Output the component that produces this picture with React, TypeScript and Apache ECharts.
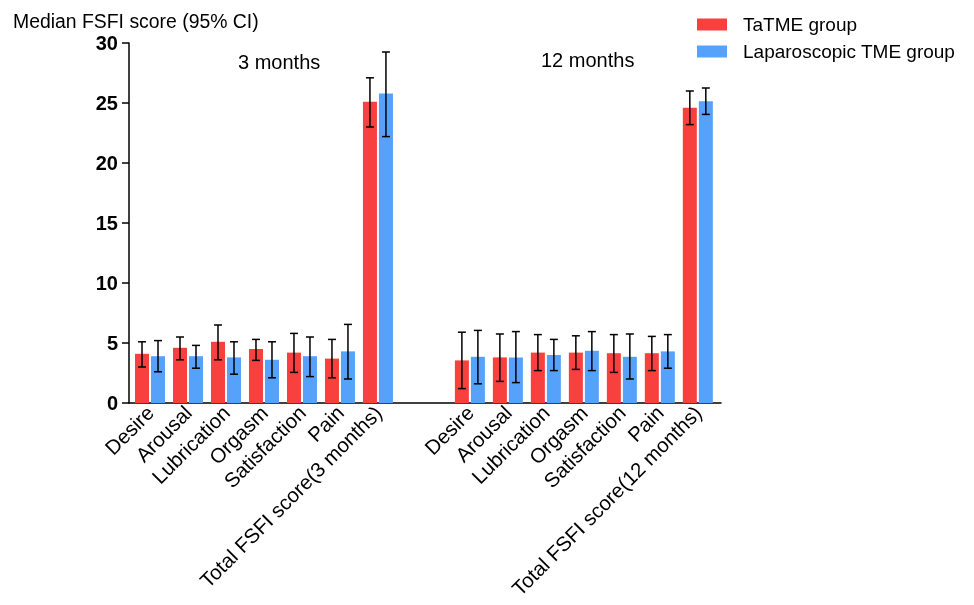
import React, { useEffect, useRef } from "react";
import * as echarts from "echarts";

const categories3 = ["Desire", "Arousal", "Lubrication", "Orgasm", "Satisfaction", "Pain", "Total FSFI score(3 months)"];
const categories12 = ["Desire", "Arousal", "Lubrication", "Orgasm", "Satisfaction", "Pain", "Total FSFI score(12 months)"];

const tatme3 = [4.1, 4.6, 5.1, 4.5, 4.2, 3.7, 25.1];
const tatme3Low = [3.0, 3.6, 3.6, 3.55, 2.55, 2.1, 23.0];
const tatme3High = [5.1, 5.5, 6.5, 5.3, 5.8, 5.3, 27.1];
const lap3 = [3.9, 3.9, 3.8, 3.6, 3.9, 4.3, 25.8];
const lap3Low = [2.6, 2.9, 2.4, 2.1, 2.2, 2.0, 22.2];
const lap3High = [5.2, 4.8, 5.1, 5.1, 5.5, 6.55, 29.25];

const tatme12 = [3.55, 3.8, 4.2, 4.2, 4.15, 4.15, 24.6];
const tatme12Low = [1.2, 1.8, 2.7, 2.8, 2.55, 2.7, 23.2];
const tatme12High = [5.9, 5.75, 5.7, 5.6, 5.7, 5.55, 26.0];
const lap12 = [3.85, 3.8, 4.0, 4.35, 3.85, 4.3, 25.15];
const lap12Low = [1.6, 1.7, 2.7, 2.7, 2.0, 2.9, 24.05];
const lap12High = [6.05, 5.95, 5.3, 5.95, 5.75, 5.7, 26.25];

const yTicks = [0, 5, 10, 15, 20, 25, 30];
const seriesNames = ["TaTME group", "Laparoscopic TME group"];
const colors = ["#F8403F", "#56A2FB"];

const FONT = "'Liberation Sans', Arial, sans-serif";
const GAP = 1.42; // extra space between the two time-point blocks (in category units)

const allCategories = [...categories3, ...categories12];
const positions = allCategories.map((_, i) => (i >= categories3.length ? i + GAP : i));

function build(vals: number[][], lows: number[][], highs: number[][]) {
  const v = vals.flat();
  const l = lows.flat();
  const h = highs.flat();
  return positions.map((p, i) => [p, v[i], l[i], h[i]]);
}

const redData = build([tatme3, tatme12], [tatme3Low, tatme12Low], [tatme3High, tatme12High]);
const blueData = build([lap3, lap12], [lap3Low, lap12Low], [lap3High, lap12High]);

function makeRender(offset: number) {
  return (params: any, api: any) => {
    const x = api.value(0);
    const base = api.coord([x, 0]);
    const top = api.coord([x, api.value(1)]);
    const lo = api.coord([x, api.value(2)]);
    const hi = api.coord([x, api.value(3)]);
    const cx = base[0] + offset;
    const bw = 14;
    const cap = 4;
    const stroke = { stroke: "#000", lineWidth: 1.5 };
    return {
      type: "group",
      children: [
        {
          type: "rect",
          shape: { x: cx - bw / 2, y: top[1], width: bw, height: base[1] - top[1] },
          style: { fill: api.visual("color") },
        },
        { type: "line", shape: { x1: cx, y1: hi[1], x2: cx, y2: lo[1] }, style: stroke },
        { type: "line", shape: { x1: cx - cap, y1: hi[1], x2: cx + cap, y2: hi[1] }, style: stroke },
        { type: "line", shape: { x1: cx - cap, y1: lo[1], x2: cx + cap, y2: lo[1] }, style: stroke },
      ],
    };
  };
}

export default function App() {
  const ref = useRef<HTMLDivElement>(null);
  useEffect(() => {
    if (!ref.current) return;
    const chart = echarts.init(ref.current, null, { renderer: "svg" });
    const labelMap = new Map<number, string>();
    positions.forEach((p, i) => labelMap.set(Math.round(p * 100), allCategories[i]));
    chart.setOption({
      animation: false,
      textStyle: { fontFamily: FONT },
      grid: { left: 129, right: 253, top: 43, bottom: 202, containLabel: false },
      legend: {
        orient: "vertical",
        left: 692,
        top: 9.5,
        icon: "rect",
        itemWidth: 30,
        itemHeight: 12,
        itemGap: 7,
        data: seriesNames,
        textStyle: { fontFamily: FONT, fontSize: 19, color: "#000", lineHeight: 20, padding: [0, 0, 0, 11] },
      },
      xAxis: {
        type: "value",
        min: -0.553,
        max: 15.03,
        splitLine: { show: false },
        axisLine: { show: true, onZero: false, lineStyle: { color: "#000", width: 1.5 } },
        axisTick: { show: false },
        axisLabel: {
          customValues: positions,
          rotate: 45,
          margin: 6,
          fontSize: 20.5,
          color: "#000",
          fontFamily: FONT,
          formatter: (v: number) => labelMap.get(Math.round(v * 100)) ?? "",
        },
      },
      yAxis: {
        type: "value",
        min: 0,
        max: 30,
        interval: 5,
        splitLine: { show: false },
        axisLine: { show: true, onZero: false, lineStyle: { color: "#000", width: 1.5 } },
        axisTick: { show: true, length: 7, lineStyle: { color: "#000", width: 1.5 }, customValues: yTicks },
        axisLabel: { fontSize: 20, fontWeight: "bold", color: "#000", margin: 11, fontFamily: FONT },
      },
      graphic: [
        {
          type: "text",
          x: 13,
          y: 21,
          style: { text: "Median FSFI score (95% CI)", fontSize: 19.4, fontFamily: FONT, fill: "#000", verticalAlign: "middle" },
        },
        {
          type: "text",
          x: 238,
          y: 62,
          style: { text: "3 months", fontSize: 20, fontFamily: FONT, fill: "#000", verticalAlign: "middle" },
        },
        {
          type: "text",
          x: 541,
          y: 60,
          style: { text: "12 months", fontSize: 20, fontFamily: FONT, fill: "#000", verticalAlign: "middle" },
        },
      ],
      series: [
        {
          name: seriesNames[0],
          type: "custom",
          itemStyle: { color: colors[0] },
          encode: { x: 0, y: 1 },
          data: redData,
          renderItem: makeRender(-8),
        },
        {
          name: seriesNames[1],
          type: "custom",
          itemStyle: { color: colors[1] },
          encode: { x: 0, y: 1 },
          data: blueData,
          renderItem: makeRender(8),
        },
      ],
    });
    return () => chart.dispose();
  }, []);
  return <div ref={ref} style={{ position: "fixed", left: 0, top: 0, width: 974, height: 605 }} />;
}
